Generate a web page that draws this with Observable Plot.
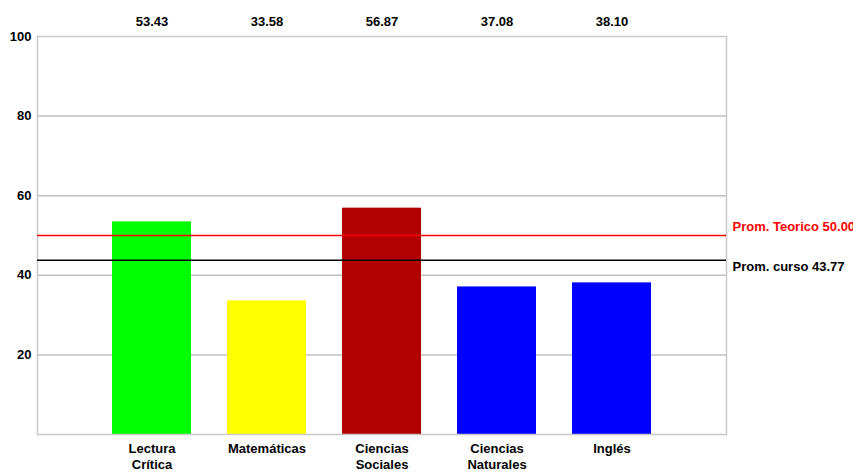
<!DOCTYPE html>
<html>
<head>
<meta charset="utf-8">
<script src="https://cdn.jsdelivr.net/npm/d3@7"></script>
<script src="https://cdn.jsdelivr.net/npm/@observablehq/plot@0.6"></script>
<style>
  html, body { margin: 0; padding: 0; background: #fff; }
</style>
</head>
<body>
<div id="chart"></div>
<script>
const categories = ["Lectura\nCrítica", "Matemáticas", "Ciencias\nSociales", "Ciencias\nNaturales", "Inglés"];
const values = [53.43, 33.58, 56.87, 37.08, 38.10];
const barColors = ["#00ff00", "#ffff00", "#b30000", "#0000ff", "#0000ff"];
const yTicks = [20, 40, 60, 80, 100];
const refNames = ["Prom. Teorico", "Prom. curso"];
const refValues = [50.00, 43.77];
const refColors = ["#ff0000", "#000000"];

const data = categories.map((c, i) => ({cat: c, value: values[i], color: barColors[i]}));
const refs = refNames.map((n, i) => ({name: n, value: refValues[i], color: refColors[i]}));

const font = "'Liberation Sans', Arial, sans-serif";
const fs = 13;

const chart = Plot.plot({
  width: 853,
  height: 473,
  marginLeft: 37,
  marginRight: 127,
  marginTop: 36,
  marginBottom: 39,
  style: {fontFamily: font, fontWeight: "bold", fontSize: fs + "px", color: "#000", background: "#fff"},
  x: {type: "band", domain: categories, insetLeft: 57, insetRight: 57, paddingInner: 0.31, paddingOuter: 0.155},
  y: {domain: [0, 100]},
  color: {type: "identity"},
  marks: [
    Plot.gridY(yTicks.slice(0, 4), {stroke: "#c0c0c0", strokeOpacity: 1, strokeWidth: 1.5}),
    Plot.barY(data, {x: "cat", y: "value", fill: "color"}),
    Plot.frame({stroke: "#c8c8c8", strokeWidth: 1.5}),
    Plot.ruleY(refs, {y: "value", stroke: "color", strokeWidth: 1.5}),
    Plot.text([refs[0]], {y: "value", text: d => `${d.name} ${d.value.toFixed(2)}`, fill: "color", frameAnchor: "right", textAnchor: "start", dx: 6, dy: -9, fontSize: fs, fontWeight: "bold"}),
    Plot.text([refs[1]], {y: "value", text: d => `${d.name} ${d.value.toFixed(2)}`, fill: "color", frameAnchor: "right", textAnchor: "start", dx: 6, dy: 7, fontSize: fs, fontWeight: "bold"}),
    Plot.text(data, {x: "cat", text: d => d.value.toFixed(2), frameAnchor: "top", dy: -20, fontSize: fs, fontWeight: "bold", fill: "#000"}),
    Plot.axisY({ticks: yTicks, tickSize: 0, tickPadding: 6, fontSize: fs, fontWeight: "bold", label: null}),
    Plot.axisX({tickSize: 0, tickPadding: 7, lineHeight: 1.23, fontSize: fs, fontWeight: "bold", label: null})
  ]
});
document.getElementById("chart").appendChild(chart);
</script>
</body>
</html>
